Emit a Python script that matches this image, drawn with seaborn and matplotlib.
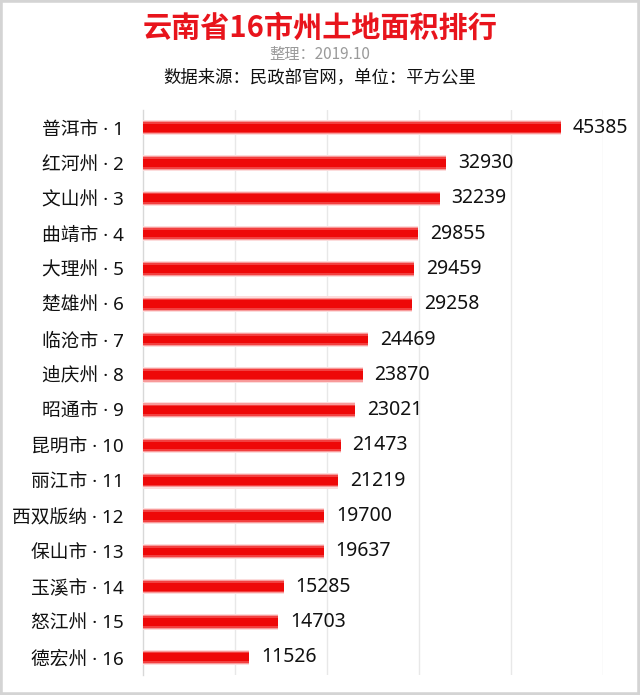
import matplotlib
matplotlib.use("Agg")
import matplotlib.pyplot as plt
import seaborn as sns
import pandas as pd
from matplotlib.patches import Rectangle

cities = ["普洱市", "红河州", "文山州", "曲靖市", "大理州", "楚雄州", "临沧市", "迪庆州",
          "昭通市", "昆明市", "丽江市", "西双版纳", "保山市", "玉溪市", "怒江州", "德宏州"]
ranks = list(range(1, 17))
areas = [45385, 32930, 32239, 29855, 29459, 29258, 24469, 23870,
         23021, 21473, 21219, 19700, 19637, 15285, 14703, 11526]
labels = [f"{c} · {r}" for c, r in zip(cities, ranks)]

title = "云南省16市州土地面积排行"
subtitle = "整理：2019.10"
source = "数据来源：民政部官网，单位：平方公里"

df = pd.DataFrame({"label": labels, "area": areas})

sns.set_theme(style="white")
plt.rcParams["font.family"] = ["Noto Sans CJK SC", "DejaVu Sans"]
latin_first = ["Noto Sans", "Noto Sans CJK SC"]

fig = plt.figure(figsize=(6.4, 6.95), dpi=100)
ax = fig.add_axes([143 / 640, 1 - 675 / 695, 460 / 640, 565 / 695])

layers = [(0.44, "#fcdcdc"), (0.38, "#f89a9a"), (0.32, "#f24040"), (0.22, "#ee0808")]
for w, col in layers:
    sns.barplot(data=df, x="area", y="label", orient="h", width=w, color=col,
                saturation=1, linewidth=0, edgecolor="none", ax=ax, zorder=3)

ax.set_xlim(0, 50000)
ax.set_xticks([10000, 20000, 30000, 40000, 50000])
ax.set_xticklabels([])
ax.grid(axis="x", color="#e8e8e8", linewidth=1, zorder=0)
ax.set_axisbelow(True)
ax.set_xlabel("")
ax.set_ylabel("")
ax.tick_params(axis="y", length=0, pad=14, labelsize=13.5, labelcolor="#111111")
ax.tick_params(axis="x", length=0)
for t in ax.get_yticklabels():
    t.set_family(latin_first)
for s in ["top", "right", "bottom"]:
    ax.spines[s].set_visible(False)
ax.spines["left"].set_color("#d8d8d8")
ax.spines["left"].set_linewidth(1)

for i, v in enumerate(areas):
    ax.text(v + 1300, i, f"{v}", va="center", ha="left", fontsize=14,
            color="#111111", family=latin_first)

fig.text(0.5, 1 - 28 / 695, title, ha="center", va="center", fontsize=21,
         color="#e8141c", fontweight="bold")
fig.text(0.5, 1 - 55 / 695, subtitle, ha="center", va="center", fontsize=11,
         color="#9a9a9a")
fig.text(0.5, 1 - 77 / 695, source, ha="center", va="center", fontsize=12.5,
         color="#111111")

fig.patches.append(Rectangle((0, 0), 1, 1, transform=fig.transFigure, fill=False,
                             edgecolor="#d4d4d4", linewidth=4))

fig.savefig("out.png", dpi=100)
